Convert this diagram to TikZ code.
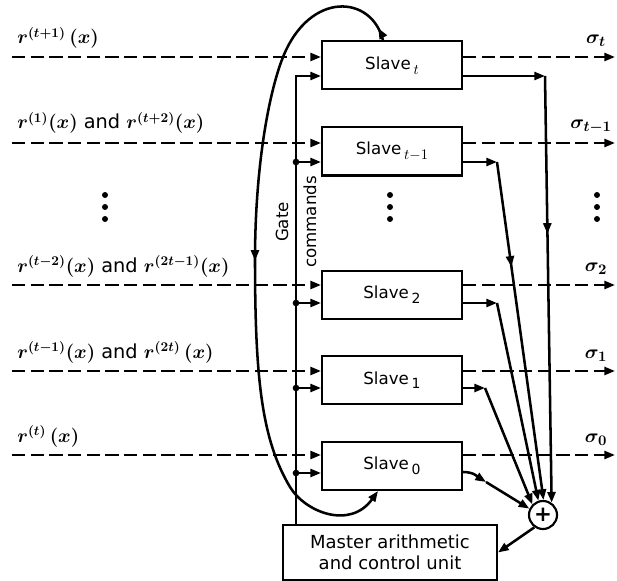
\documentclass[tikz,border=0pt]{standalone}
\usepackage{fontspec}
\setmainfont{DejaVu Sans}
\usetikzlibrary{arrows.meta,calc,decorations.markings}
\newcommand{\slavesub}[1]{\raisebox{-0.5ex}{\fontsize{10.5}{11}\selectfont #1}}
\tikzset{
  slavebox/.style={draw=black, line width=1.5pt, minimum width=105pt,
                   minimum height=36pt, inner sep=0pt,
                   font=\fontsize{12.5}{14}\selectfont},
  masterbox/.style={draw=black, line width=1.5pt, minimum width=160.5pt,
                    minimum height=41.25pt, align=center, inner sep=0pt,
                    font=\fontsize{13.5}{16}\selectfont},
  sumnode/.style={circle, draw=black, line width=1.6pt, minimum size=21pt,
                  inner sep=0pt, font=\bfseries\fontsize{16}{16}\selectfont},
  inlabel/.style={anchor=base west, inner sep=0pt,
                  font=\boldmath\fontsize{14.5}{16}\selectfont},
  outlabel/.style={inner sep=0pt, font=\boldmath\fontsize{15}{17}\selectfont},
  gatelabel/.style={rotate=90, align=center, inner sep=0pt,
                    font=\fontsize{12.5}{21}\selectfont},
  dataline/.style={-{Triangle[length=8pt,width=6pt]}, line width=1.8pt,
                   dash pattern=on 10pt off 4pt},
  wire/.style={line width=1.9pt},
  arrowwire/.style={wire, -{Triangle[length=8pt,width=6pt]}},
  midarrow/.style={postaction={decorate}, decoration={markings,
                   mark=at position #1 with
                   {\arrow{Triangle[length=8pt,width=6pt]}}}},
  loopmarks/.style={postaction={decorate}, decoration={markings,
                    mark=at position 10pt with
                    {\arrow{Triangle[length=8pt,width=6pt]}},
                    mark=at position 260pt with
                    {\arrow{Triangle[length=8pt,width=6pt]}}}},
  junction/.style={circle, fill=black, minimum size=5pt, inner sep=0pt},
  vdot/.style={circle, fill=black, minimum size=4.5pt, inner sep=0pt}
}

\begin{document}
\begin{tikzpicture}[x=0.75pt,y=-0.75pt]
  \path[use as bounding box] (0,0) rectangle (617,581);

  % Slave units, the adder and the master unit.
  \node[slavebox] (s5) at (392,65.5) {Slave\,\slavesub{$t$}};
  \node[slavebox] (s4) at (392,151.5) {Slave\,\slavesub{$t{-}1$}};
  \node[slavebox] (s2) at (392,294.5) {Slave\,\slavesub{2}};
  \node[slavebox] (s1) at (392,380) {Slave\,\slavesub{1}};
  \node[slavebox] (s0) at (392,466) {Slave\,\slavesub{0}};
  \node[sumnode] (sum) at (543,515) {+};
  \node[masterbox] (master) at (390,552.5)
    {Master arithmetic\\and control unit};

  % Dashed data lines in and out of each slave.
  \foreach \s/\yd in {s5/57, s4/143, s2/285, s1/371, s0/455} {
    \draw[dataline] (12,\yd) -- (\s.west |- 0,\yd);
    \draw[dataline] (\s.east |- 0,\yd) -- (615,\yd);
  }
  \node[inlabel] (r5) at (17,44) {$r^{(t+1)}\,(x)$};
  \node[inlabel] (r4) at (17,129) {$r^{(1)}(x)$ and $r^{(t+2)}(x)$};
  \node[inlabel] (r2) at (17,272) {$r^{(t-2)}(x)$ and $r^{(2t-1)}(x)$};
  \node[inlabel] (r1) at (17,358) {$r^{(t-1)}(x)$ and $r^{(2t)}\,(x)$};
  \node[inlabel] (r0) at (17,442) {$r^{(t)}\,(x)$};
  \node[outlabel] (o5) at (596,41) {$\sigma_t$};
  \node[outlabel] (o4) at (591,127) {$\sigma_{t-1}$};
  \node[outlabel] (o2) at (596,269) {$\sigma_2$};
  \node[outlabel] (o1) at (596,356) {$\sigma_1$};
  \node[outlabel] (o0) at (596,440) {$\sigma_0$};
  \foreach \x in {105,390,597}
    \foreach \y in {195,207,219}
      \node[vdot] (d\x-\y) at (\x,\y) {};

  % Gate commands from the master unit.
  \coordinate (gate) at (296,0);
  \draw[arrowwire] (gate |- master.north) -- (gate |- 0,76)
    -- (s5.west |- 0,76);
  \foreach \s/\yg in {s4/162, s2/303, s1/388, s0/473} {
    \node[junction] (j\s) at (296,\yg) {};
    \draw[arrowwire] (j\s.center) -- (\s.west |- 0,\yg);
  }
  \node[gatelabel] (gatetext) at (296,222) {Gate\\commands};

  % Slave outputs collected by the adder.
  \draw[arrowwire] (s5.east |- 0,76) -- (545,76);
  \draw[arrowwire,midarrow=0.37] (545,76) -- (sum.55);
  \draw[arrowwire] (s4.east |- 0,162) -- (497,162);
  \draw[arrowwire,midarrow=0.31] (497,162) -- (sum.88);
  \draw[arrowwire] (s2.east |- 0,303) -- (497,303);
  \draw[arrowwire] (497,303) -- (sum.108);
  \draw[arrowwire] (s1.east |- 0,388) -- (485,388);
  \draw[arrowwire] (485,388) -- (sum.135);
  \draw[arrowwire] (s0.east |- 0,472) .. controls (474,472) and (478,477)
    .. (486,482);
  \draw[arrowwire] (486,482) -- (sum.155);
  \draw[arrowwire] (sum.235) -- (master.east);

  % Shift loop from the top slave back to slave 0.
  \draw[arrowwire,loopmarks] ($(s5.north)+(-9,0)$)
    .. controls (372,-5) and (310,-10) .. (283,57)
    .. controls (268,95) and (255,170) .. (255,260)
    .. controls (255,380) and (262,440) .. (290,487)
    .. controls (305,512) and (350,530) .. ($(s0.south)+(-14,0)$);
\end{tikzpicture}
\end{document}
